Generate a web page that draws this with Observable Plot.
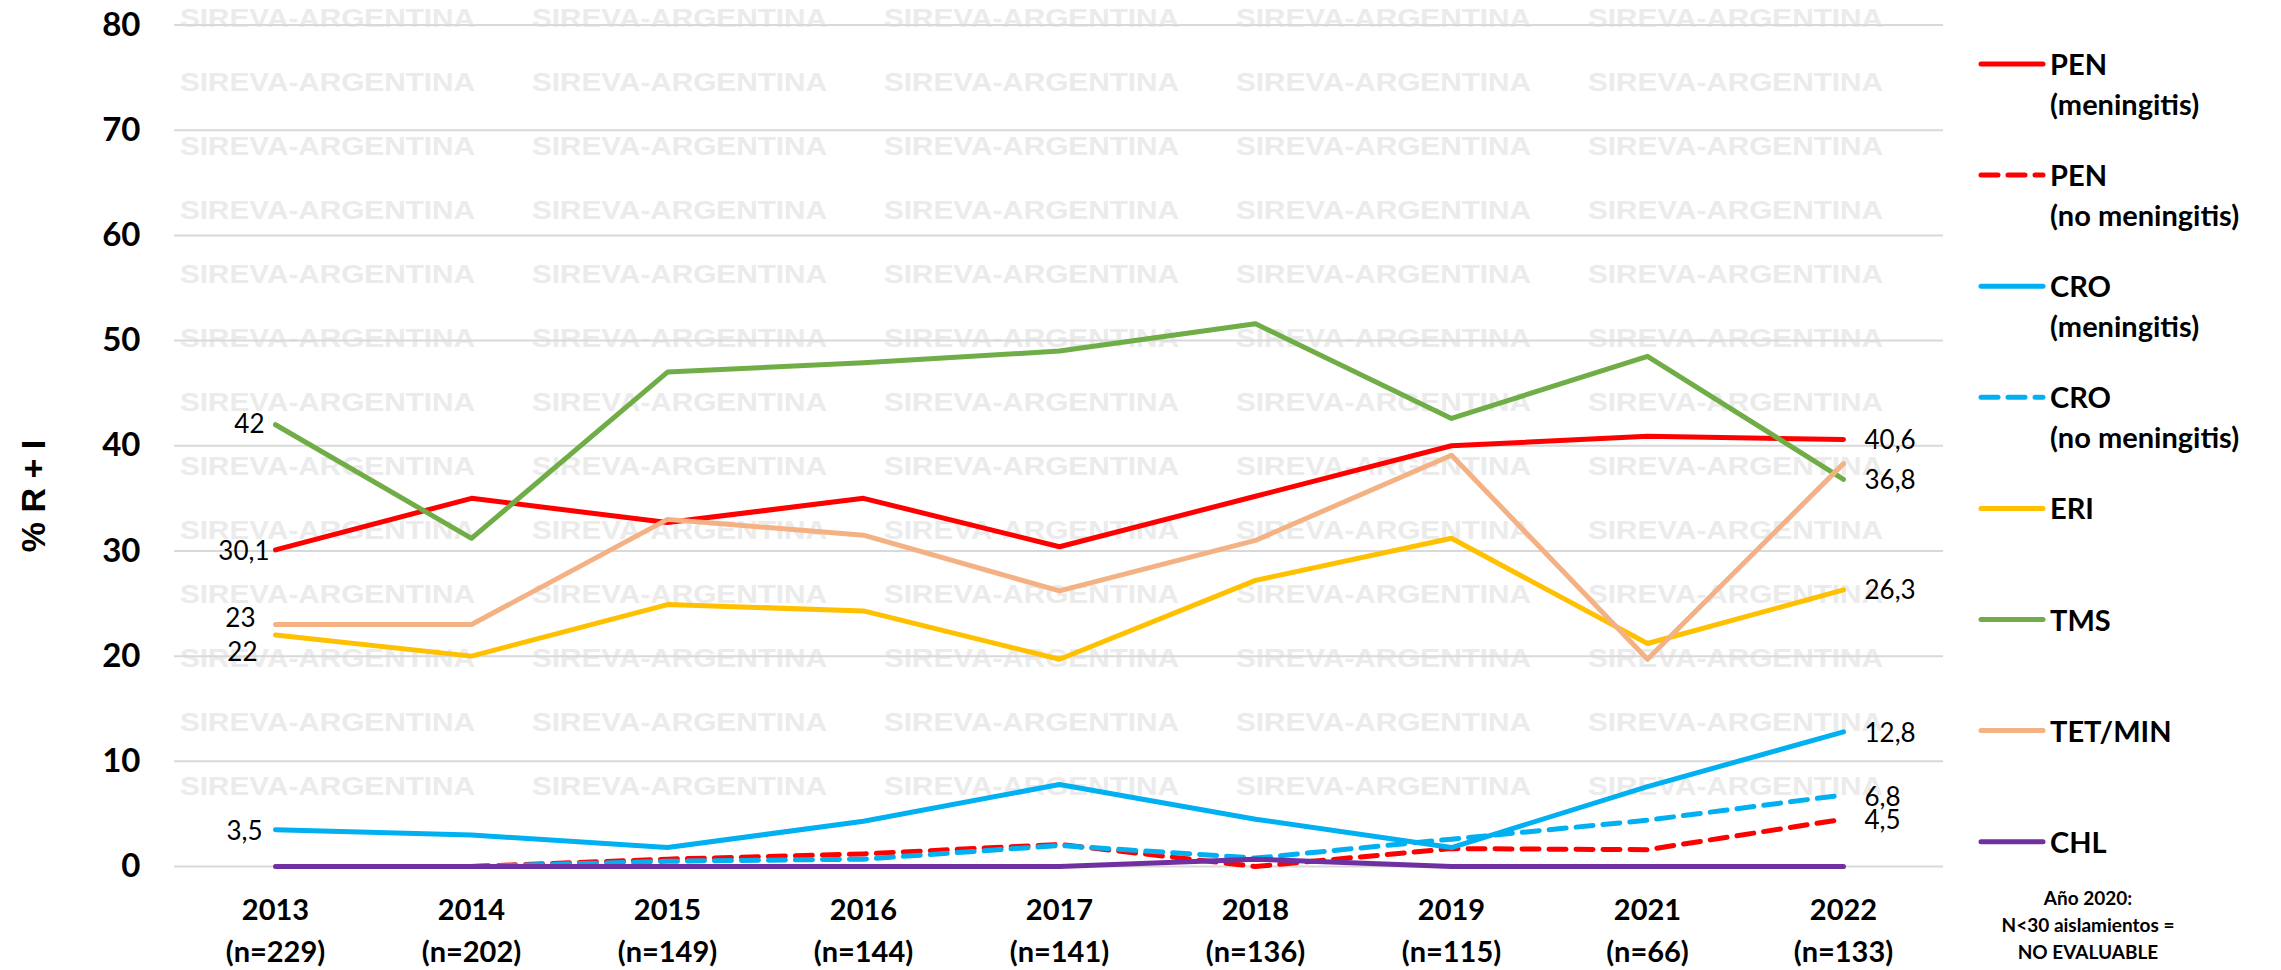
<!DOCTYPE html>
<html><head><meta charset="utf-8">
<script src="https://cdn.jsdelivr.net/npm/d3@7"></script>
<script src="https://cdn.jsdelivr.net/npm/@observablehq/plot@0.6"></script>
<style>
body{margin:0;background:#fff;}
#wrap{position:relative;width:2281px;height:970px;overflow:hidden;background:#fff;}
#wrap>svg{position:absolute;left:0;top:0;}
</style></head><body><div id="wrap"></div>
<script>
// ---- data ----
const years = ["2013","2014","2015","2016","2017","2018","2019","2021","2022"];
const nIsolates = [229,202,149,144,141,136,115,66,133];
const penMen   = [30.1,35.0,32.7,35.0,30.4,35.2,40.0,40.9,40.6];
const penNoMen = [null,0,0.7,1.2,2.1,0,1.7,1.6,4.5];
const croMen   = [3.5,3.0,1.8,4.3,7.8,4.5,1.8,7.6,12.8];
const croNoMen = [null,0,0.5,0.7,2.0,0.8,2.6,4.4,6.8];
const eri      = [22,20.0,24.9,24.3,19.7,27.2,31.2,21.2,26.3];
const tms      = [42,31.2,47.0,47.9,49.0,51.6,42.6,48.5,36.8];
const tetMin   = [23,23,33.0,31.5,26.2,31.0,39.1,19.7,38.3];
const chl      = [0,0,0,0,0,0.7,0,0,0];
const yTicks = [0,10,20,30,40,50,60,70,80];
const seriesKeys = ["PENm","PENn","CROm","CROn","ERI","TMS","TET","CHL"];
const seriesValues = [penMen,penNoMen,croMen,croNoMen,eri,tms,tetMin,chl];
const legendLabels = [["PEN","(meningitis)"],["PEN","(no meningitis)"],["CRO","(meningitis)"],["CRO","(no meningitis)"],["ERI"],["TMS"],["TET/MIN"],["CHL"]];
const leftLabelSeries = ["TMS","PENm","TET","ERI","CROm"];
const rightLabelSeries = ["PENm","TMS","ERI","CROm","CROn","PENn"];
const yTitle = "% R + I";
const footnote = ["Año 2020:","N<30 aislamientos =","NO EVALUABLE"];
const watermark = "SIREVA-ARGENTINA";

// ---- styles ----
const colors = {PENm:"#FF0000",PENn:"#FF0000",CROm:"#00B0F0",CROn:"#00B0F0",ERI:"#FFC000",TMS:"#70AD47",TET:"#F4B183",CHL:"#7030A0"};
const dashed = {PENn:true,CROn:true};
const leftDx = {TMS:-11,PENm:-6,TET:-20,ERI:-18,CROm:-13};
const leftDy = {TMS:0,PENm:2,TET:-6,ERI:18,CROm:2};
const rightDy = {PENm:1,TMS:1,ERI:1,CROm:2,CROn:2.5,PENn:2};
const fmt = v => String(v).replace(".", ",");

const rowsOf = k => {
  const vals = seriesValues[seriesKeys.indexOf(k)];
  return years.map((y,i)=>({year:y, value:vals[i], key:k})).filter(d=>d.value!=null);
};

const wrap = document.getElementById("wrap");

// watermark layer
const wm = d3.create("svg").attr("width",2281).attr("height",970);
for (let r=0;r<13;r++) for (let c=0;c<5;c++) {
  wm.append("text").attr("x",180+c*352).attr("y",27+r*64)
    .attr("font-family","Liberation Sans, Arial, sans-serif").attr("font-weight","bold")
    .attr("font-size",26).attr("fill","#EBEBEB")
    .attr("textLength",295).attr("lengthAdjust","spacingAndGlyphs").text(watermark);
}
wrap.appendChild(wm.node());

const lineMarks = seriesKeys.map(k => Plot.line(rowsOf(k), {
  x:"year", y:"value", stroke: colors[k], strokeWidth:5,
  strokeDasharray: dashed[k] ? "17,10" : null,
  strokeLinecap:"round", strokeLinejoin:"round"
}));

const labelMarks = [];
leftLabelSeries.forEach(k => {
  const d = rowsOf(k).filter(r=>r.year===years[0]);
  labelMarks.push(Plot.text(d,{x:"year",y:"value",text:r=>fmt(r.value),textAnchor:"end",
    dx:leftDx[k],dy:leftDy[k],fontSize:26,fill:"#000",fontFamily:"Lato"}));
});
rightLabelSeries.forEach(k => {
  const d = rowsOf(k).filter(r=>r.year===years[years.length-1]);
  labelMarks.push(Plot.text(d,{x:"year",y:"value",text:r=>fmt(r.value),textAnchor:"start",
    dx:21,dy:rightDy[k],fontSize:26,fill:"#000",fontFamily:"Lato"}));
});

const chart = Plot.plot({
  width:1990, height:970,
  marginLeft:174, marginRight:47, marginTop:24.5, marginBottom:104,
  style:{fontFamily:"Lato", background:"transparent", color:"#000", overflow:"visible"},
  x:{type:"point", domain:years, padding:0.5},
  y:{domain:[0,80]},
  marks:[
    Plot.gridY(yTicks,{stroke:"#D9D9D9",strokeOpacity:1,strokeWidth:2}),
    Plot.axisY(yTicks,{tickSize:0,tickPadding:34,fontSize:33,fontWeight:"bold",label:null,fill:"#000"}),
    Plot.axisX({tickSize:0,tickPadding:24,fontSize:29,fontWeight:"bold",lineHeight:1.45,label:null,fill:"#000",
      tickFormat:d=>`${d}\n(n=${nIsolates[years.indexOf(d)]})`}),
    ...lineMarks,
    ...labelMarks
  ]
});
wrap.appendChild(chart);

// overlay: y title, legend, footnote
const ov = d3.create("svg").attr("width",2281).attr("height",970);
ov.append("text").attr("transform","translate(45,496) rotate(-90)")
  .attr("text-anchor","middle").attr("font-family","Liberation Sans, Arial, sans-serif")
  .attr("font-weight","bold").attr("font-size",34).attr("fill","#000").text(yTitle);

seriesKeys.forEach((k,i) => {
  const base = 75 + i*111.1;
  ov.append("line").attr("x1",1981).attr("x2",2043).attr("y1",base-11).attr("y2",base-11)
    .attr("stroke",colors[k]).attr("stroke-width",5).attr("stroke-linecap","round")
    .attr("stroke-dasharray",dashed[k]?"17,10":null);
  const t = ov.append("text").attr("font-family","Lato").attr("font-weight","bold")
    .attr("font-size",29).attr("fill","#000");
  legendLabels[i].forEach((s,j)=>{
    t.append("tspan").attr("x",2050).attr("y",base+j*40).text(s);
  });
});
const fn = ov.append("text").attr("font-family","Lato").attr("font-weight","bold")
  .attr("font-size",19).attr("fill","#000").attr("text-anchor","middle");
footnote.forEach((s,j)=>fn.append("tspan").attr("x",2088).attr("y",905+j*27).text(s));
wrap.appendChild(ov.node());
</script></body></html>
